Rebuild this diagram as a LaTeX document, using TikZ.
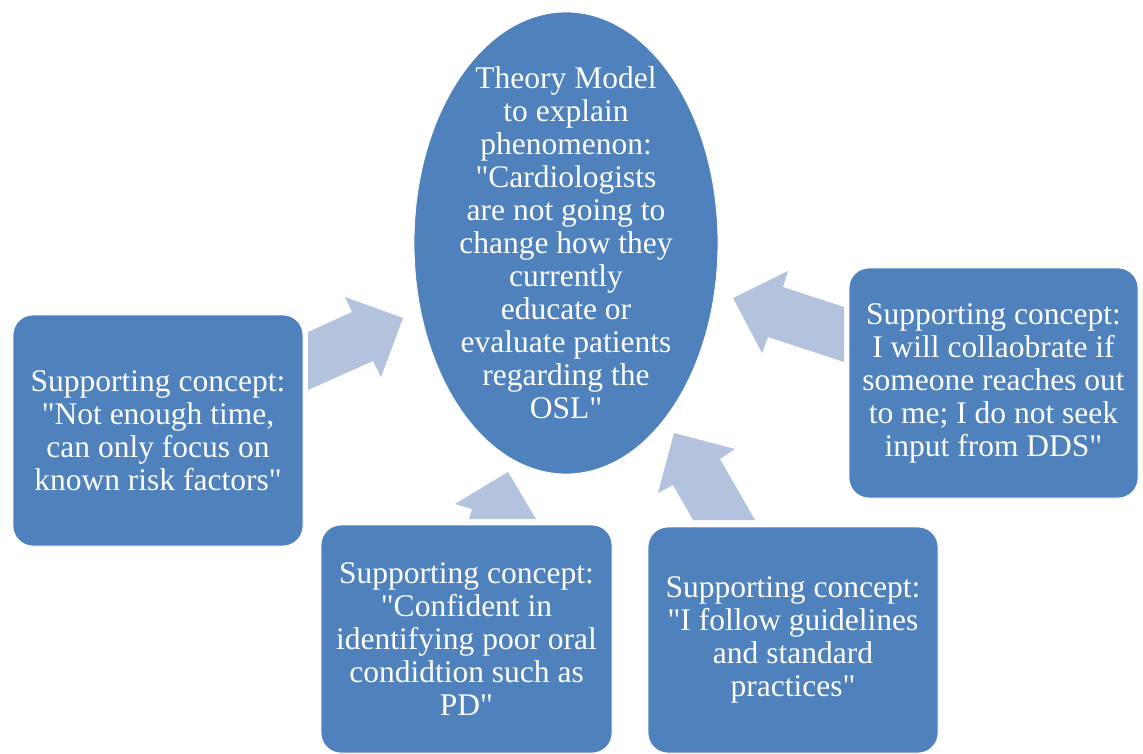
\documentclass[tikz,border=0pt]{standalone}
\usepackage{fontspec}
\setmainfont{Liberation Serif}[Ligatures=TeXOff]
\usetikzlibrary{shapes.geometric}
\definecolor{boxblue}{HTML}{4F81BD}
\definecolor{arrowblue}{HTML}{B3C3DE}
\tikzset{
  box/.style={fill=boxblue, draw=white, line width=0.8pt, rounded corners=20pt, text=white, align=center,
    font=\fontsize{31.5pt}{33pt}\selectfont, inner sep=0pt},
  oval/.style={ellipse, fill=boxblue, draw=white, line width=0.8pt, inner sep=0pt},
  ovaltext/.style={text=white, align=center, font=\fontsize{31.5pt}{33pt}\selectfont, inner sep=0pt},
  blockarrow/.style={fill=arrowblue}
}
\begin{document}
\begin{tikzpicture}[x=1pt,y=-1pt]
\useasboundingbox (0,0) rectangle (1143,754);
% block arrows
\fill[blockarrow] (308,390) -- (308,332) -- (352,312) -- (345,297) -- (403,318) -- (381,377) -- (373,361) -- cycle;
\fill[blockarrow] (508,472) -- (455,504) -- (472,509) -- (469,519) -- (536,519) -- cycle;
\fill[blockarrow] (674,433) -- (735,449) -- (720,459) -- (755,520) -- (693,520) -- (673,485) -- (658,493) -- cycle;
\fill[blockarrow] (733,298) -- (788,271) -- (783,287) -- (844,307) -- (844,362) -- (768,337) -- (762,353) -- cycle;
% centre oval
\node[oval, minimum width=304pt, minimum height=462pt] (theory) at (566,243) {};
\node[ovaltext] (theorytext) at (theory.center) {Theory Model\\to explain\\phenomenon:\\"Cardiologists\\are not going to\\change how they\\currently\\educate or\\evaluate patients\\regarding the\\OSL"};
% supporting boxes
\node[box, minimum width=290pt, minimum height=231pt] (time) at (158,430.5) {Supporting concept:\\"Not enough time,\\can only focus on\\known risk factors"};
\node[box, minimum width=291pt, minimum height=228pt] (confident) at (466.5,639) {Supporting concept:\\"Confident in\\identifying poor oral\\condidtion such as\\PD"};
\node[box, minimum width=290pt, minimum height=226pt] (guidelines) at (793,640) {Supporting concept:\\"I follow guidelines\\and standard\\practices"};
\node[box, minimum width=289pt, minimum height=230pt] (collab) at (993.5,383) {Supporting concept:\\I will collaobrate if\\someone reaches out\\to me; I do not seek\\input from DDS"};
\end{tikzpicture}
\end{document}
